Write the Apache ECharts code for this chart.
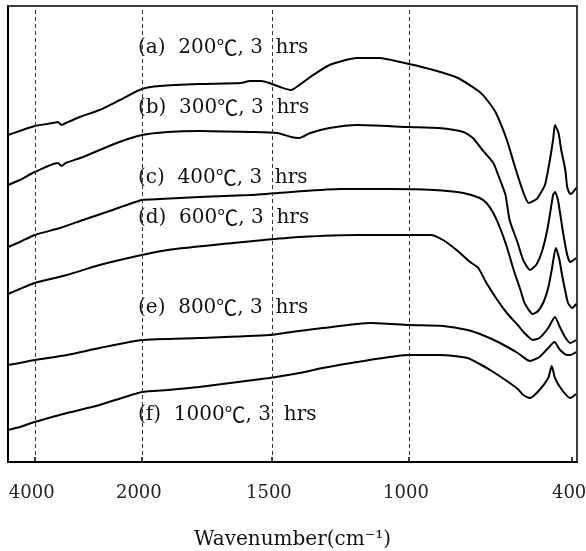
<!DOCTYPE html>
<html>
<head>
<meta charset="utf-8">
<title>FTIR spectra</title>
<script src="https://cdn.jsdelivr.net/npm/echarts@6.0.0/dist/echarts.min.js"></script>
<style>
  html, body { margin: 0; padding: 0; background: #fff; }
  #chart { width: 586px; height: 551px; }
</style>
</head>
<body>
<div id="chart"></div>
<script>
// tick labels on the broken wavenumber axis (cm-1)
var tickWaves = [4000, 2000, 1500, 1000, 400];
// dashed guide lines
var guideWaves = [4000, 2000, 1500, 1000];
// curve names ({c|..} = wide degree sign)
var labels = [
  '(a)  200{c|℃}, 3  hrs',
  '(b)  300{c|℃}, 3  hrs',
  '(c)  400{c|℃}, 3  hrs',
  '(d)  600{c|℃}, 3  hrs',
  '(e)  800{c|℃}, 3  hrs',
  '(f)  1000{c|℃}, 3  hrs'
];

// [wavenumber, transmittance (arb. units, offset)]
var curveA = [[4500,327],[4280,331],[4000,336],[3660,339],[3570,340],[3500,337],[3420,339],[3160,345],
  [2790,352],[2410,362],[2000,373],[1930,376],[1780,378],[1620,379],[1585,381],[1540,381],[1510,379],
  [1470,375],[1430,372],[1400,377],[1360,385],[1290,397],[1190,404],[1110,404],[1000,398],[910,392],
  [820,384],[740,370],[710,361],[680,349],[640,322],[610,295],[580,270],[560,259],[530,263],[520,267],
  [500,277],[485,297],[470,322],[463,337],[450,329],[440,312],[425,292],[418,275],[407,268],[396,270],[385,274]];
var curveB = [[4500,277],[4280,282],[4000,290],[3570,299],[3500,296],[3420,299],[3100,305],[2470,319],
  [2000,327],[1900,330],[1780,331],[1585,330],[1480,329],[1430,325],[1400,324],[1360,329],[1290,334],
  [1190,337],[1000,335],[890,334],[800,330],[765,324],[730,312],[690,299],[665,282],[645,267],[630,242],
  [600,219],[580,202],[555,192],[530,198],[507,214],[488,237],[470,267],[463,270],[452,262],[433,229],
  [418,207],[407,200],[385,204]];
var curveC = [[4500,215],[4280,220],[4000,227],[3530,234],[3100,242],[2600,251],[2000,262],[1930,263],
  [1780,265],[1585,267],[1430,270],[1250,273],[1070,273],[910,272],[800,269],[740,264],[715,259],
  [690,249],[665,234],[640,215],[615,192],[590,172],[575,159],[545,148],[525,151],[505,160],[488,174],
  [475,192],[460,214],[448,204],[437,187],[426,172],[415,159],[400,154],[385,158]];
var curveD = [[4500,168],[4280,173],[4000,179],[3400,187],[2790,197],[2000,207],[1900,212],[1650,219],
  [1530,222],[1400,225],[1190,227],[1000,227],[920,227],[875,222],[825,212],[775,200],[745,194],
  [715,179],[675,162],[640,149],[600,137],[575,129],[545,122],[520,124],[488,134],[463,145],[445,135],
  [426,125],[407,119],[385,122]];
var curveE = [[4500,97],[4280,99],[4000,102],[3400,107],[2790,114],[2000,122],[1780,124],[1510,127],
  [1430,130],[1315,134],[1140,139],[1000,137],[875,136],[785,132],[730,127],[665,119],[600,109],
  [555,101],[520,105],[488,114],[465,120],[444,112],[418,107],[407,107],[385,110]];
var curveF = [[4500,32],[4280,35],[4000,40],[3400,49],[2790,57],[2000,70],[1900,72],[1780,75],
  [1510,84],[1400,89],[1315,94],[1190,100],[1000,107],[885,107],[785,104],[740,98],[690,90],[640,81],
  [600,73],[580,67],[555,64],[520,72],[488,84],[475,96],[463,84],[437,72],[407,64],[385,68]];

var curves = [curveA, curveB, curveC, curveD, curveE, curveF];

// broken scale: 4000-2000 is squeezed, 2000-400 is roughly linear
var anchorW = [4000, 2000, 1500, 1000, 400];
var anchorT = [0, 107, 237, 374, 537];

function toT(w) {
  var i = 0;
  if (w >= anchorW[0]) i = 0;
  else if (w <= anchorW[anchorW.length - 1]) i = anchorW.length - 2;
  else while (!(w <= anchorW[i] && w >= anchorW[i + 1])) i++;
  var w0 = anchorW[i], w1 = anchorW[i + 1], t0 = anchorT[i], t1 = anchorT[i + 1];
  return t0 + (w0 - w) * (t1 - t0) / (w0 - w1);
}

var chart = echarts.init(document.getElementById('chart'));

var serif = 'DejaVu Serif, Liberation Serif, Noto Sans CJK SC, serif';

var series = curves.map(function (c, idx) {
  var s = {
    type: 'line',
    data: c.map(function (p) { return [toT(p[0]), p[1]]; }),
    symbol: 'none',
    smooth: 0.2,
    lineStyle: { color: '#000', width: 2 },
    silent: true
  };
  if (idx === 0) {
    s.markLine = {
      silent: true,
      symbol: 'none',
      label: { show: false },
      lineStyle: { color: '#333', width: 1, type: [4, 3] },
      data: guideWaves.map(function (w) { return { xAxis: toT(w) }; })
    };
  }
  return s;
});

var labelY = [48, 108, 178, 218, 308, 415];

chart.setOption({
  animation: false,
  grid: {
    left: 8, right: 9, top: 6, bottom: 89,
    outerBoundsMode: 'none',
    containLabel: false,
    show: true, borderColor: '#000', borderWidth: 1.5
  },
  xAxis: {
    type: 'value',
    min: toT(4500),
    max: toT(382),
    splitLine: { show: false },
    axisLine: { show: true, onZero: false, lineStyle: { color: '#000', width: 2 } },
    axisTick: {
      show: true, inside: true, length: 5,
      customValues: tickWaves.map(toT),
      lineStyle: { color: '#000', width: 1.5 }
    },
    axisLabel: {
      customValues: tickWaves.map(toT),
      margin: 22,
      fontFamily: serif,
      fontSize: 18,
      color: '#222',
      padding: [0, 6, 0, 0],
      formatter: function (v) {
        for (var i = 0; i < tickWaves.length; i++) {
          if (Math.abs(toT(tickWaves[i]) - v) < 0.5) return String(tickWaves[i]);
        }
        return '';
      }
    },
    name: 'Wavenumber(cm⁻¹)',
    nameLocation: 'middle',
    nameGap: 68,
    nameTextStyle: { fontFamily: serif, fontSize: 20, color: '#111' }
  },
  yAxis: {
    type: 'value',
    min: 0,
    max: 456,
    axisLine: { show: true, onZero: false, lineStyle: { color: '#000', width: 2 } },
    axisTick: { show: false },
    axisLabel: { show: false },
    splitLine: { show: false }
  },
  graphic: labels.map(function (t, i) {
    return {
      type: 'text',
      left: 138,
      top: labelY[i] - 11,
      silent: true,
      style: {
        text: t,
        font: '20px ' + serif,
        fill: '#111',
        rich: {
          c: { fontFamily: 'Noto Sans CJK SC', fontSize: 21, fill: '#111' }
        }
      }
    };
  }),
  series: series
});
</script>
</body>
</html>
